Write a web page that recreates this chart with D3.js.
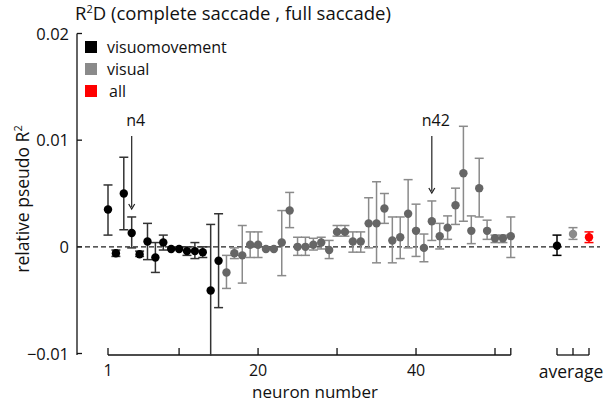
<!DOCTYPE html>
<html>
  <head>
    <meta charset="utf-8" />
    <title>R2D relative pseudo R2</title>
    <script src="https://d3js.org/d3.v7.min.js"></script>
    <style>
        body { margin:0; background:#fff; }
        text { font-family: "Open Sans", sans-serif; fill:#111; }
    </style>
  </head>
  <body>
    <svg id="viz"></svg>
    <script>
        // neuron 1-15 visuomovement, 16-52 visual
        var neurons = d3.range(1, 53);
        var nVisuomovement = 15;
        var meanR2 = [0.0035, -0.0006, 0.0050, 0.0013, -0.0007, 0.0005, -0.0010, 0.0004, -0.0002, -0.0002,
                      -0.0004, -0.0004, -0.0005, -0.0041, -0.0013, -0.0024, -0.0006, -0.0008, 0.0002, 0.0002,
                      -0.0002, -0.0002, 0.0004, 0.0034, 0.0000, 0.0000, 0.0002, 0.0004, -0.0003, 0.0014,
                      0.0014, 0.0005, 0.0005, 0.0022, 0.0022, 0.0036, 0.0006, 0.0009, 0.0031, 0.0015,
                      -0.0001, 0.0024, 0.0010, 0.0018, 0.0039, 0.0069, 0.0015, 0.0055, 0.0015, 0.0008,
                      0.0008, 0.0010];
        var lowR2 = [0.0011, -0.0009, 0.0016, -0.0001, -0.0009, -0.0012, -0.0024, -0.0003, -0.0002, -0.0002,
                     -0.0008, -0.0011, -0.0010, -0.0102, -0.0057, -0.0039, -0.0011, -0.0034, -0.0010, -0.0010,
                     -0.0002, -0.0002, -0.0027, 0.0018, -0.0008, -0.0008, -0.0003, -0.0002, -0.0011, 0.0010,
                     0.0010, -0.0005, -0.0005, -0.0001, -0.0015, 0.0022, -0.0015, -0.0011, -0.0001, -0.0009,
                     -0.0014, 0.0006, -0.0002, 0.0007, 0.0021, 0.0024, 0.0003, 0.0028, 0.0007, 0.0004,
                     0.0004, -0.0010];
        var highR2 = [0.0058, -0.0003, 0.0084, 0.0028, -0.0004, 0.0022, 0.0004, 0.0011, -0.0002, -0.0002,
                      0.0000, 0.0004, 0.0000, 0.0021, 0.0031, -0.0008, -0.0001, 0.0020, 0.0014, 0.0014,
                      -0.0002, -0.0002, 0.0034, 0.0051, 0.0009, 0.0009, 0.0008, 0.0009, 0.0006, 0.0020,
                      0.0020, 0.0014, 0.0014, 0.0046, 0.0061, 0.0050, 0.0028, 0.0028, 0.0063, 0.0040,
                      0.0012, 0.0043, 0.0022, 0.0029, 0.0055, 0.0113, 0.0029, 0.0083, 0.0025, 0.0011,
                      0.0011, 0.0028];

        var avgGroups = ["visuomovement", "visual", "all"];
        var avgMean = [0.0001, 0.0012, 0.0009];
        var avgLow = [-0.0008, 0.0007, 0.0004];
        var avgHigh = [0.0011, 0.0018, 0.0014];

        var yTicks = [-0.01, 0, 0.01, 0.02];
        var yTickLabels = ["\u22120.01", "0", "0.01", "0.02"];
        var xTicks = [1, 10, 20, 30, 40, 50, 52];
        var xTickLabels = [1, 20, 40];
        var notes = [{label: "n4", neuron: 4}, {label: "n42", neuron: 42}];

        var width = 605, height = 402;
        var svg = d3.select("#viz").attr("width", width).attr("height", height);

        var x = d3.scaleLinear().domain([1, 52]).range([108, 510.8]);
        var xAvg = d3.scalePoint().domain(avgGroups).range([557, 589]);
        var y = d3.scaleLinear().domain([-0.01, 0.02]).range([353.5, 33.5]);

        var colors = {visuomovement: "#000", visual: "#666", all: "#ff0000"};
        var barColors = {visuomovement: "#333", visual: "#8a8a8a", all: "#ff0000"};
        var avgColors = {visuomovement: "#000", visual: "#8a8a8a", all: "#ff0000"};
        var legendColors = {visuomovement: "#000", visual: "#8a8a8a", all: "#ff0000"};

        var data = neurons.map(function (n, i) {
            return {n: n, mean: meanR2[i], lo: lowR2[i], hi: highR2[i],
                    group: i < nVisuomovement ? "visuomovement" : "visual"};
        });

        // title
        svg.append("text").attr("x", 75).attr("y", 20).attr("font-size", 18.5)
           .html("R<tspan dy='-7' font-size='11'>2</tspan><tspan dy='7'>D (complete saccade , full saccade)</tspan>");

        // y axis
        var yAxis = svg.append("g");
        yAxis.append("line").attr("x1", 77).attr("x2", 77)
             .attr("y1", y(0.02)).attr("y2", 355).attr("stroke", "#111").attr("stroke-width", 1.3);
        yAxis.selectAll(".tick").data(yTicks).enter().append("line")
             .attr("x1", 77).attr("x2", 82)
             .attr("y1", function (d) { return y(d); }).attr("y2", function (d) { return y(d); })
             .attr("stroke", "#111").attr("stroke-width", 1.3);
        yAxis.selectAll("text").data(yTicks).enter().append("text")
             .attr("x", 69).attr("y", function (d) { return y(d) + 6; })
             .attr("text-anchor", "end").attr("font-size", 16.5)
             .text(function (d, i) { return yTickLabels[i]; });

        svg.append("text").attr("transform", "translate(29,199) rotate(-90)")
           .attr("text-anchor", "middle").attr("font-size", 17.5)
           .html("relative pseudo R<tspan dy='-7' font-size='11'>2</tspan>");

        // zero line
        svg.append("line").attr("x1", 77).attr("x2", 600)
           .attr("y1", y(0)).attr("y2", y(0))
           .attr("stroke", "#222").attr("stroke-width", 1.2).attr("stroke-dasharray", "5,3");

        // x axis (neurons)
        var xAxis = svg.append("g");
        xAxis.append("line").attr("x1", x(1)).attr("x2", x(52)).attr("y1", 355).attr("y2", 355)
             .attr("stroke", "#111").attr("stroke-width", 1.3);
        xAxis.selectAll(".tick").data(xTicks).enter().append("line")
             .attr("x1", function (d) { return x(d); }).attr("x2", function (d) { return x(d); })
             .attr("y1", 355).attr("y2", 348).attr("stroke", "#111").attr("stroke-width", 1.3);
        xAxis.selectAll("text").data(xTickLabels).enter().append("text")
             .attr("x", function (d) { return x(d); }).attr("y", 375.5)
             .attr("text-anchor", "middle").attr("font-size", 16)
             .text(function (d) { return d; });
        svg.append("text").attr("x", 315).attr("y", 397.5).attr("text-anchor", "middle")
           .attr("font-size", 17).text("neuron number");

        // average axis
        var aAxis = svg.append("g");
        aAxis.append("line").attr("x1", xAvg("visuomovement")).attr("x2", xAvg("all"))
             .attr("y1", 355).attr("y2", 355).attr("stroke", "#111").attr("stroke-width", 1.3);
        aAxis.selectAll(".tick").data(avgGroups).enter().append("line")
             .attr("x1", function (d) { return xAvg(d); }).attr("x2", function (d) { return xAvg(d); })
             .attr("y1", 355).attr("y2", 348).attr("stroke", "#111").attr("stroke-width", 1.3);
        svg.append("text").attr("x", 571).attr("y", 378).attr("text-anchor", "middle")
           .attr("font-size", 17.5).text("average");

        // error bars + dots
        function drawBars(g, rows, xf, barCol, dotCol) {
            var cap = 4.5;
            var bars = g.selectAll("g.bar").data(rows.filter(function (d) { return d.hi - d.lo > 0.00005; }))
                .enter().append("g").attr("stroke", function (d) { return barCol[d.group]; })
                .attr("stroke-width", 1.5);
            bars.append("line").attr("x1", xf).attr("x2", xf)
                .attr("y1", function (d) { return y(d.lo); }).attr("y2", function (d) { return y(d.hi); });
            bars.append("line").attr("x1", function (d) { return xf(d) - cap; })
                .attr("x2", function (d) { return xf(d) + cap; })
                .attr("y1", function (d) { return y(d.hi); }).attr("y2", function (d) { return y(d.hi); });
            bars.filter(function (d) { return d.lo > -0.01; }).append("line")
                .attr("x1", function (d) { return xf(d) - cap; })
                .attr("x2", function (d) { return xf(d) + cap; })
                .attr("y1", function (d) { return y(d.lo); }).attr("y2", function (d) { return y(d.lo); });
            g.selectAll("circle").data(rows).enter().append("circle")
                .attr("cx", xf).attr("cy", function (d) { return y(d.mean); })
                .attr("r", 4.2).attr("fill", function (d) { return dotCol[d.group]; });
        }

        drawBars(svg.append("g"), data, function (d) { return x(d.n); }, barColors, colors);

        var avgData = avgGroups.map(function (g, i) {
            return {group: g, mean: avgMean[i], lo: avgLow[i], hi: avgHigh[i]};
        });
        drawBars(svg.append("g"), avgData, function (d) { return xAvg(d.group); }, avgColors, avgColors);

        // annotations
        notes.forEach(function (nt) {
            var d = data[nt.neuron - 1];
            var xx = x(d.n);
            svg.append("text").attr("x", xx + 4).attr("y", 126).attr("text-anchor", "middle")
               .attr("font-size", 16).text(nt.label);
            svg.append("line").attr("x1", xx).attr("x2", xx).attr("y1", 136).attr("y2", y(d.hi) - 10)
               .attr("stroke", "#222").attr("stroke-width", 1.2);
            svg.append("path")
               .attr("d", "M" + (xx - 3) + "," + (y(d.hi) - 13) + "L" + xx + "," + (y(d.hi) - 8) + "L" + (xx + 3) + "," + (y(d.hi) - 13))
               .attr("fill", "none").attr("stroke", "#222").attr("stroke-width", 1.2);
        });

        // legend
        var legend = svg.append("g");
        avgGroups.forEach(function (g, i) {
            legend.append("rect").attr("x", 85).attr("y", 41 + i * 22).attr("width", 12).attr("height", 12)
                  .attr("fill", legendColors[g]);
            legend.append("text").attr("x", g === "all" ? 109 : 107).attr("y", 52.5 + i * 22)
                  .attr("font-size", 16).text(g);
        });
    </script>
  </body>
</html>
